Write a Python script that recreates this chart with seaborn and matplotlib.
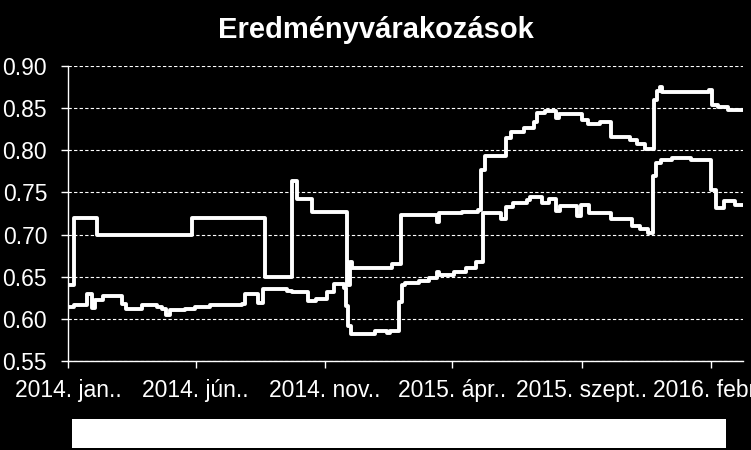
import pandas as pd
import matplotlib.pyplot as plt
from matplotlib.patches import Rectangle
import seaborn as sns

# --- adatok (lépcsős idősorok, a változás napjai és az új értékek) ---
felso_datum = ['2014-01-01', '2014-01-08', '2014-02-04', '2014-05-28', '2014-08-22', '2014-09-23',
               '2014-09-29', '2014-10-17', '2014-11-27', '2014-12-01', '2014-12-03', '2015-01-19',
               '2015-01-30', '2015-03-14', '2015-03-16', '2015-04-12', '2015-05-01', '2015-05-05',
               '2015-05-10', '2015-06-03', '2015-06-10', '2015-06-25', '2015-07-07', '2015-07-10',
               '2015-07-20', '2015-08-02', '2015-08-05', '2015-09-01', '2015-09-08', '2015-09-23',
               '2015-10-06', '2015-10-28', '2015-11-05', '2015-11-15', '2015-11-26', '2015-11-29',
               '2015-12-03', '2015-12-05', '2016-01-30', '2016-02-02', '2016-02-09', '2016-02-21',
               '2016-03-10']
felso_ertek = [0.640, 0.720, 0.700, 0.720, 0.650, 0.763,
               0.742, 0.727, 0.640, 0.668, 0.660, 0.665,
               0.723, 0.715, 0.725, 0.727, 0.729, 0.777,
               0.793, 0.814, 0.822, 0.826, 0.834, 0.844,
               0.847, 0.838, 0.843, 0.836, 0.831, 0.834,
               0.816, 0.8125, 0.807, 0.801, 0.860, 0.870,
               0.875, 0.869, 0.872, 0.854, 0.851, 0.848,
               0.848]

also_datum = ['2014-01-01', '2014-01-08', '2014-01-23', '2014-01-29', '2014-02-02', '2014-02-11',
              '2014-03-06', '2014-03-11', '2014-03-30', '2014-04-08', '2014-04-16', '2014-04-22',
              '2014-04-27', '2014-05-02', '2014-05-19', '2014-05-31', '2014-06-18', '2014-07-12',
              '2014-07-26', '2014-07-29', '2014-08-14', '2014-08-20', '2014-09-17', '2014-09-23',
              '2014-10-12', '2014-10-22', '2014-11-04', '2014-11-12', '2014-11-24', '2014-11-26',
              '2014-11-28', '2014-12-02', '2014-12-30', '2015-01-14', '2015-01-17', '2015-01-28',
              '2015-01-31', '2015-02-04', '2015-02-20', '2015-03-04', '2015-03-14', '2015-03-16',
              '2015-04-03', '2015-04-17', '2015-04-29', '2015-05-07', '2015-05-28', '2015-06-03',
              '2015-06-12', '2015-06-28', '2015-07-02', '2015-07-16', '2015-07-24', '2015-08-02',
              '2015-08-07', '2015-08-26', '2015-08-31', '2015-09-10', '2015-10-06', '2015-10-31',
              '2015-11-09', '2015-11-18', '2015-11-24', '2015-11-28', '2015-12-04', '2015-12-17',
              '2016-01-08', '2016-02-01', '2016-02-07', '2016-02-16', '2016-02-29', '2016-03-10']
also_ertek = [0.614, 0.617, 0.629, 0.613, 0.622, 0.627,
              0.618, 0.612, 0.617, 0.616, 0.614, 0.612,
              0.604, 0.611, 0.612, 0.614, 0.616, 0.617,
              0.618, 0.629, 0.619, 0.635, 0.633, 0.632,
              0.621, 0.624, 0.632, 0.641, 0.636, 0.615,
              0.592, 0.582, 0.585, 0.583, 0.586, 0.620,
              0.640, 0.643, 0.645, 0.648, 0.655, 0.652,
              0.656, 0.660, 0.667, 0.725, 0.719, 0.733,
              0.738, 0.741, 0.745, 0.738, 0.742, 0.728,
              0.734, 0.722, 0.735, 0.726, 0.718, 0.710,
              0.706, 0.702, 0.769, 0.785, 0.788, 0.791,
              0.789, 0.753, 0.732, 0.740, 0.735, 0.735]

tick_datum = ['2014-01-01', '2014-06-01', '2014-11-01', '2015-04-01', '2015-09-01', '2016-02-01']
tick_cimke = ['2014. jan..', '2014. jún..', '2014. nov..', '2015. ápr..', '2015. szept..', '2016. febr..']
y_tickek = [0.55, 0.60, 0.65, 0.70, 0.75, 0.80, 0.85, 0.90]

# --- stílus ---
sns.set_theme(style='white', rc={'figure.facecolor': 'black', 'axes.facecolor': 'black'})
plt.rcParams['font.family'] = ['Liberation Sans', 'DejaVu Sans']

fig = plt.figure(figsize=(7.51, 4.5), dpi=100)
ax = fig.add_axes([0.0905, 0.1978, 0.8988, 0.6556])

sns.lineplot(x=pd.to_datetime(felso_datum), y=felso_ertek, ax=ax, color='white',
             lw=2.8, drawstyle='steps-post', solid_joinstyle='round')
sns.lineplot(x=pd.to_datetime(also_datum), y=also_ertek, ax=ax, color='white',
             lw=2.8, drawstyle='steps-post', solid_joinstyle='round')

ax.set_xlim(pd.Timestamp('2014-01-01'), pd.Timestamp('2016-03-10'))
ax.set_ylim(0.55, 0.90)
ax.set_yticks(y_tickek)
ax.set_yticklabels([f'{v:.2f}' for v in y_tickek])
ax.set_xticks(pd.to_datetime(tick_datum))
ax.set_xticklabels(tick_cimke)
ax.set_xlabel('')
ax.set_ylabel('')

ax.yaxis.grid(True, color='white', linestyle=(0, (3, 2)), linewidth=0.8)
ax.xaxis.grid(False)
for s in ['top', 'right']:
    ax.spines[s].set_visible(False)
for s in ['left', 'bottom']:
    ax.spines[s].set_color('white')
    ax.spines[s].set_linewidth(1.0)

ax.tick_params(axis='both', colors='white', labelsize=16.5, direction='out',
               length=5, width=1, bottom=True, left=True)
ax.tick_params(axis='y', pad=10)
ax.tick_params(axis='x', pad=8)

fig.text(0.5, 1 - 30 / 450, 'Eredményvárakozások', color='white', fontsize=21,
         fontweight='bold', ha='center', va='center')

# üres jelmagyarázat-doboz alul
fig.patches.append(Rectangle((0.0959, 0.0044), 0.8708, 0.0644, transform=fig.transFigure,
                             facecolor='white', edgecolor='none'))

fig.savefig('out.png', dpi=100, facecolor='black')
